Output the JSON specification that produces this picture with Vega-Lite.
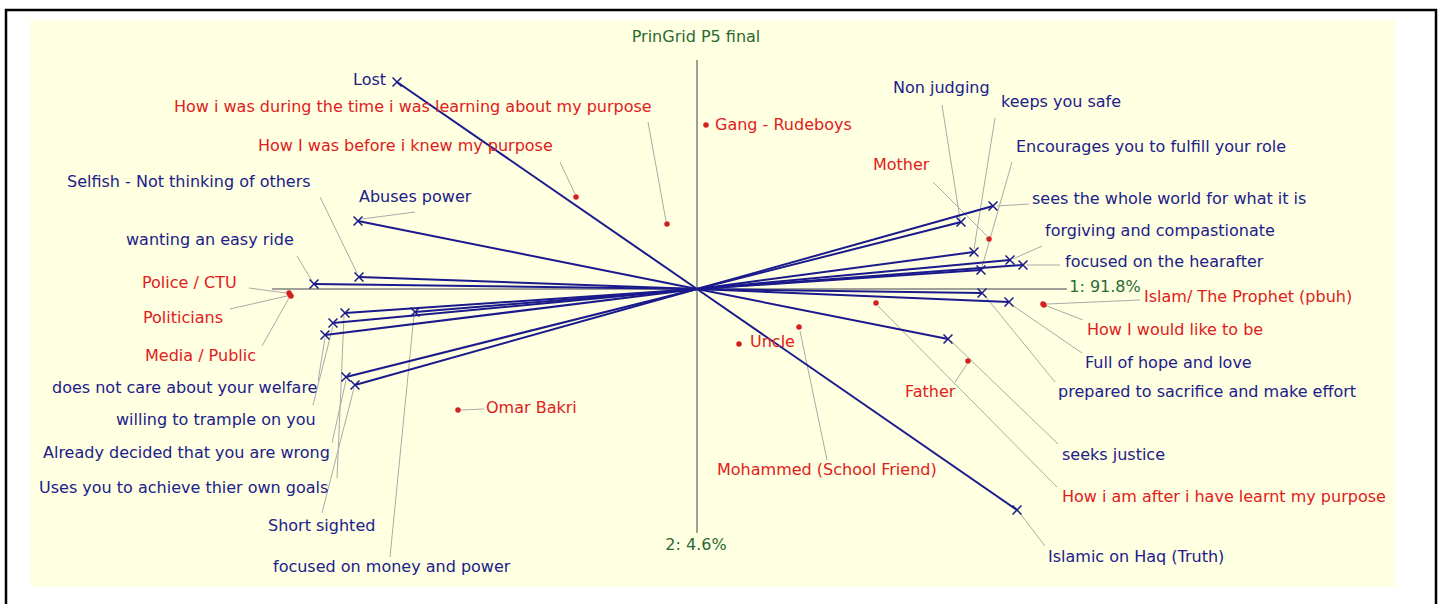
{
  "$schema": "https://vega.github.io/schema/vega-lite/v6.json",
  "autosize": {"type": "none"},
  "width": 1365,
  "height": 567,
  "padding": {"left": 30, "top": 20, "right": 48, "bottom": 17},
  "background": "white",
  "view": {"fill": "#ffffe1", "stroke": null},
  "config": {"text": {"font": "DejaVu Sans", "fontSize": 16}},
  "datasets": {
    "frame": [{"x": -6.91, "x2": 7.39, "y": 2.79, "y2": -4.3}],
    "axes": [
      {"x": -4.25, "x2": 3.70, "y": 0, "y2": 0},
      {"x": 0, "x2": 0, "y": 2.29, "y2": -2.44}
    ],
    "poles": [
      {"name": "Lost", "px": -3.00, "py": 2.07},
      {"name": "Islamic on Haq (Truth)", "px": 3.20, "py": -2.21},
      {"name": "Abuses power", "px": -3.39, "py": 0.68},
      {"name": "seeks justice", "px": 2.51, "py": -0.50},
      {"name": "Selfish - Not thinking of others", "px": -3.38, "py": 0.12},
      {"name": "Full of hope and love", "px": 3.12, "py": -0.13},
      {"name": "wanting an easy ride", "px": -3.83, "py": 0.05},
      {"name": "prepared to sacrifice and make effort", "px": 2.85, "py": -0.04},
      {"name": "does not care about your welfare", "px": -3.72, "py": -0.46},
      {"name": "keeps you safe", "px": 2.77, "py": 0.37},
      {"name": "willing to trample on you", "px": -3.64, "py": -0.34},
      {"name": "forgiving and compastionate", "px": 3.13, "py": 0.29},
      {"name": "Uses you to achieve thier own goals", "px": -3.52, "py": -0.24},
      {"name": "focused on the hearafter", "px": 3.26, "py": 0.24},
      {"name": "focused on money and power", "px": -2.82, "py": -0.23},
      {"name": "Encourages you to fulfill your role", "px": 2.84, "py": 0.19},
      {"name": "Already decided that you are wrong", "px": -3.51, "py": -0.88},
      {"name": "sees the whole world for what it is", "px": 2.96, "py": 0.83},
      {"name": "Short sighted", "px": -3.42, "py": -0.96},
      {"name": "Non judging", "px": 2.64, "py": 0.67}
    ],
    "elements": [
      {"name": "Gang - Rudeboys", "ex": 0.09, "ey": 1.64},
      {"name": "How i was during the time i was learning about my purpose", "ex": -0.30, "ey": 0.65},
      {"name": "How I was before i knew my purpose", "ex": -1.21, "ey": 0.92},
      {"name": "Mother", "ex": 2.92, "ey": 0.50},
      {"name": "Police / CTU", "ex": -4.08, "ey": -0.04},
      {"name": "Politicians", "ex": -4.07, "ey": -0.06},
      {"name": "Media / Public", "ex": -4.06, "ey": -0.07},
      {"name": "Uncle", "ex": 0.42, "ey": -0.55},
      {"name": "Mohammed (School Friend)", "ex": 1.02, "ey": -0.38},
      {"name": "Omar Bakri", "ex": -2.39, "ey": -1.21},
      {"name": "Father", "ex": 2.71, "ey": -0.72},
      {"name": "How i am after i have learnt my purpose", "ex": 1.79, "ey": -0.14},
      {"name": "Islam/ The Prophet (pbuh)", "ex": 3.46, "ey": -0.15},
      {"name": "How I would like to be", "ex": 3.47, "ey": -0.16}
    ],
    "labels": [
      {"text": "Lost", "kind": "construct", "lx": -3.44, "ly": 2.09},
      {"text": "Abuses power", "kind": "construct", "lx": -3.38, "ly": 0.92, "sx": -2.82, "sy": 0.77, "tx": -3.35, "ty": 0.70},
      {"text": "Selfish - Not thinking of others", "kind": "construct", "lx": -6.30, "ly": 1.07, "sx": -3.77, "sy": 0.92, "tx": -3.40, "ty": 0.16},
      {"text": "wanting an easy ride", "kind": "construct", "lx": -5.71, "ly": 0.49, "sx": -4.00, "sy": 0.33, "tx": -3.85, "ty": 0.08},
      {"text": "does not care about your welfare", "kind": "construct", "lx": -6.45, "ly": -0.99, "sx": -3.79, "sy": -0.92, "tx": -3.72, "ty": -0.49},
      {"text": "willing to trample on you", "kind": "construct", "lx": -5.81, "ly": -1.31, "sx": -3.84, "sy": -1.16, "tx": -3.64, "ty": -0.37},
      {"text": "Already decided that you are wrong", "kind": "construct", "lx": -6.54, "ly": -1.64, "sx": -3.65, "sy": -1.54, "tx": -3.51, "ty": -0.91},
      {"text": "Uses you to achieve thier own goals", "kind": "construct", "lx": -6.58, "ly": -1.99, "sx": -3.60, "sy": -1.89, "tx": -3.53, "ty": -0.27},
      {"text": "Short sighted", "kind": "construct", "lx": -4.29, "ly": -2.37, "sx": -3.75, "sy": -2.24, "tx": -3.43, "ty": -0.99},
      {"text": "focused on money and power", "kind": "construct", "lx": -4.24, "ly": -2.78, "sx": -3.07, "sy": -2.68, "tx": -2.83, "ty": -0.26},
      {"text": "Non judging", "kind": "construct", "lx": 1.96, "ly": 2.01, "sx": 2.45, "sy": 1.84, "tx": 2.63, "ty": 0.70},
      {"text": "keeps you safe", "kind": "construct", "lx": 3.04, "ly": 1.87, "sx": 2.98, "sy": 1.71, "tx": 2.77, "ty": 0.40},
      {"text": "Encourages you to fulfill your role", "kind": "construct", "lx": 3.19, "ly": 1.42, "sx": 3.15, "sy": 1.27, "tx": 2.85, "ty": 0.22},
      {"text": "sees the whole world for what it is", "kind": "construct", "lx": 3.35, "ly": 0.90, "sx": 3.32, "sy": 0.85, "tx": 3.00, "ty": 0.83},
      {"text": "forgiving and compastionate", "kind": "construct", "lx": 3.48, "ly": 0.58, "sx": 3.45, "sy": 0.43, "tx": 3.16, "ty": 0.30},
      {"text": "focused on the hearafter", "kind": "construct", "lx": 3.68, "ly": 0.27, "sx": 3.63, "sy": 0.24, "tx": 3.30, "ty": 0.24},
      {"text": "Full of hope and love", "kind": "construct", "lx": 3.88, "ly": -0.74, "sx": 3.85, "sy": -0.64, "tx": 3.15, "ty": -0.16},
      {"text": "prepared to sacrifice and make effort", "kind": "construct", "lx": 3.61, "ly": -1.03, "sx": 3.58, "sy": -0.93, "tx": 2.88, "ty": -0.07},
      {"text": "seeks justice", "kind": "construct", "lx": 3.65, "ly": -1.66, "sx": 3.61, "sy": -1.55, "tx": 2.54, "ty": -0.52},
      {"text": "Islamic on Haq (Truth)", "kind": "construct", "lx": 3.51, "ly": -2.68, "sx": 3.48, "sy": -2.57, "tx": 3.22, "ty": -2.23},
      {"text": "Gang - Rudeboys", "kind": "element", "lx": 0.18, "ly": 1.64},
      {"text": "How i was during the time i was learning about my purpose", "kind": "element", "lx": -5.23, "ly": 1.82, "sx": -0.49, "sy": 1.67, "tx": -0.31, "ty": 0.68},
      {"text": "How I was before i knew my purpose", "kind": "element", "lx": -4.39, "ly": 1.43, "sx": -1.37, "sy": 1.27, "tx": -1.22, "ty": 0.95},
      {"text": "Mother", "kind": "element", "lx": 1.76, "ly": 1.24, "sx": 2.36, "sy": 1.07, "tx": 2.90, "ty": 0.53},
      {"text": "Police / CTU", "kind": "element", "lx": -5.55, "ly": 0.06, "sx": -4.48, "sy": 0.01, "tx": -4.11, "ty": -0.04},
      {"text": "Politicians", "kind": "element", "lx": -5.54, "ly": -0.29, "sx": -4.67, "sy": -0.20, "tx": -4.10, "ty": -0.07},
      {"text": "Media / Public", "kind": "element", "lx": -5.52, "ly": -0.67, "sx": -4.35, "sy": -0.57, "tx": -4.08, "ty": -0.09},
      {"text": "Uncle", "kind": "element", "lx": 0.53, "ly": -0.53},
      {"text": "Mohammed (School Friend)", "kind": "element", "lx": 0.20, "ly": -1.81, "sx": 1.30, "sy": -1.71, "tx": 1.03, "ty": -0.42},
      {"text": "Omar Bakri", "kind": "element", "lx": -2.11, "ly": -1.19, "sx": -2.36, "sy": -1.21, "tx": -2.13, "ty": -1.20},
      {"text": "Father", "kind": "element", "lx": 2.08, "ly": -1.03, "sx": 2.58, "sy": -0.93, "tx": 2.70, "ty": -0.75},
      {"text": "How i am after i have learnt my purpose", "kind": "element", "lx": 3.65, "ly": -2.08, "sx": 3.60, "sy": -1.98, "tx": 1.81, "ty": -0.17},
      {"text": "Islam/ The Prophet (pbuh)", "kind": "element", "lx": 4.47, "ly": -0.08, "sx": 4.43, "sy": -0.11, "tx": 3.50, "ty": -0.15},
      {"text": "How I would like to be", "kind": "element", "lx": 3.90, "ly": -0.41, "sx": 3.86, "sy": -0.31, "tx": 3.50, "ty": -0.17}
    ],
    "green": [
      {"text": "PrinGrid P5 final", "gx": -0.01, "gy": 2.52},
      {"text": "1: 91.8%", "gx": 4.08, "gy": 0.02},
      {"text": "2: 4.6%", "gx": -0.01, "gy": -2.56}
    ]
  },
  "layer": [
    {
      "data": {"name": "frame"},
      "mark": {"type": "rect", "fillOpacity": 0, "stroke": "black", "strokeWidth": 2.5},
      "encoding": {
        "x": {"field": "x", "type": "quantitative", "axis": null, "scale": {"domain": [-6.67, 6.98], "nice": false, "zero": false}},
        "x2": {"field": "x2"},
        "y": {"field": "y", "type": "quantitative", "axis": null, "scale": {"domain": [-2.98, 2.69], "nice": false, "zero": false}},
        "y2": {"field": "y2"}
      }
    },
    {
      "data": {"name": "axes"},
      "mark": {"type": "rule", "color": "#808080", "strokeWidth": 1.5},
      "encoding": {
        "x": {"field": "x", "type": "quantitative", "axis": null, "scale": {"domain": [-6.67, 6.98], "nice": false, "zero": false}},
        "x2": {"field": "x2"},
        "y": {"field": "y", "type": "quantitative", "axis": null, "scale": {"domain": [-2.98, 2.69], "nice": false, "zero": false}},
        "y2": {"field": "y2"}
      }
    },
    {
      "data": {"name": "labels"},
      "transform": [{"filter": "isValid(datum.sx)"}],
      "mark": {"type": "rule", "color": "#aaaaaa", "strokeWidth": 1},
      "encoding": {
        "x": {"field": "sx", "type": "quantitative", "axis": null, "scale": {"domain": [-6.67, 6.98], "nice": false, "zero": false}},
        "x2": {"field": "tx"},
        "y": {"field": "sy", "type": "quantitative", "axis": null, "scale": {"domain": [-2.98, 2.69], "nice": false, "zero": false}},
        "y2": {"field": "ty"}
      }
    },
    {
      "data": {"name": "poles"},
      "mark": {"type": "rule", "color": "#1a1a8c", "strokeWidth": 2},
      "encoding": {
        "x": {"field": "px", "type": "quantitative", "axis": null, "scale": {"domain": [-6.67, 6.98], "nice": false, "zero": false}},
        "x2": {"datum": 0},
        "y": {"field": "py", "type": "quantitative", "axis": null, "scale": {"domain": [-2.98, 2.69], "nice": false, "zero": false}},
        "y2": {"datum": 0}
      }
    },
    {
      "data": {"name": "poles"},
      "mark": {"type": "point", "shape": "M-1,-1L1,1M1,-1L-1,1", "filled": false, "color": "#1a1a8c", "strokeWidth": 1.5, "size": 80, "opacity": 1},
      "encoding": {
        "x": {"field": "px", "type": "quantitative", "axis": null, "scale": {"domain": [-6.67, 6.98], "nice": false, "zero": false}},
        "y": {"field": "py", "type": "quantitative", "axis": null, "scale": {"domain": [-2.98, 2.69], "nice": false, "zero": false}}
      }
    },
    {
      "data": {"name": "elements"},
      "mark": {"type": "point", "shape": "circle", "filled": true, "color": "#d42020", "size": 30, "opacity": 1},
      "encoding": {
        "x": {"field": "ex", "type": "quantitative", "axis": null, "scale": {"domain": [-6.67, 6.98], "nice": false, "zero": false}},
        "y": {"field": "ey", "type": "quantitative", "axis": null, "scale": {"domain": [-2.98, 2.69], "nice": false, "zero": false}}
      }
    },
    {
      "data": {"name": "labels"},
      "mark": {"type": "text", "align": "left", "baseline": "middle"},
      "encoding": {
        "x": {"field": "lx", "type": "quantitative", "axis": null, "scale": {"domain": [-6.67, 6.98], "nice": false, "zero": false}},
        "y": {"field": "ly", "type": "quantitative", "axis": null, "scale": {"domain": [-2.98, 2.69], "nice": false, "zero": false}},
        "text": {"field": "text"},
        "color": {"field": "kind", "type": "nominal", "legend": null, "scale": {"domain": ["construct", "element"], "range": ["#20208a", "#e02020"]}}
      }
    },
    {
      "data": {"name": "green"},
      "mark": {"type": "text", "align": "center", "baseline": "middle", "color": "#2a6a35"},
      "encoding": {
        "x": {"field": "gx", "type": "quantitative", "axis": null, "scale": {"domain": [-6.67, 6.98], "nice": false, "zero": false}},
        "y": {"field": "gy", "type": "quantitative", "axis": null, "scale": {"domain": [-2.98, 2.69], "nice": false, "zero": false}},
        "text": {"field": "text"}
      }
    }
  ]
}
